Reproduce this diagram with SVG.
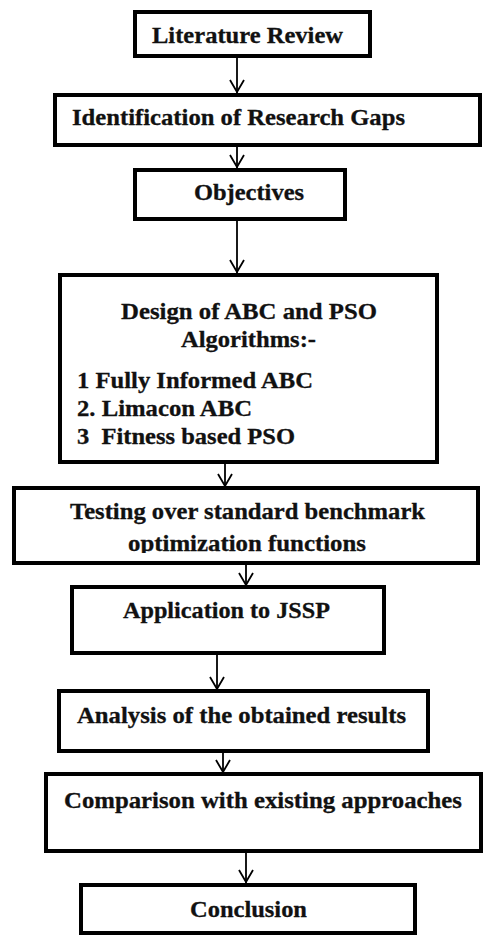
<svg xmlns="http://www.w3.org/2000/svg" width="483" height="936" viewBox="0 0 483 936">
  <style>
    .box { fill: #ffffff; stroke: #000000; stroke-width: 4; }
    .lbl { font-family: "Liberation Serif", "Times New Roman", Times, serif; font-weight: bold; font-size: 23px; fill: #111111; stroke: #111111; stroke-width: 0.3; }
    .conn line, .conn polyline { stroke: #000000; stroke-width: 1.8; fill: none; }
  </style>
  <defs>
    <clipPath id="testClip"><rect x="16" y="490" width="460" height="63"/></clipPath>
  </defs>
  <rect width="483" height="936" fill="#ffffff"/>

  <g id="literature-review">
    <rect class="box" x="135" y="12" width="235" height="44"/>
    <text class="lbl" x="152" y="43" textLength="191" lengthAdjust="spacingAndGlyphs">Literature Review</text>
  </g>

  <g id="research-gaps">
    <rect class="box" x="55" y="95" width="425" height="50"/>
    <text class="lbl" x="72" y="125" textLength="333" lengthAdjust="spacingAndGlyphs">Identification of Research Gaps</text>
  </g>

  <g id="objectives">
    <rect class="box" x="135" y="170" width="210" height="49"/>
    <text class="lbl" x="194" y="200" textLength="110" lengthAdjust="spacingAndGlyphs">Objectives</text>
  </g>

  <g id="algorithm-design">
    <rect class="box" x="60" y="275" width="377" height="187"/>
    <text class="lbl" x="121" y="319" textLength="256" lengthAdjust="spacingAndGlyphs">Design of ABC and PSO</text>
    <text class="lbl" x="181" y="347" textLength="135" lengthAdjust="spacingAndGlyphs">Algorithms:-</text>
    <text class="lbl" x="77" y="388" textLength="236" lengthAdjust="spacingAndGlyphs">1 Fully Informed ABC</text>
    <text class="lbl" x="77" y="416" textLength="175" lengthAdjust="spacingAndGlyphs">2. Limacon ABC</text>
    <text class="lbl" x="77" y="444" textLength="218" lengthAdjust="spacingAndGlyphs" xml:space="preserve">3  Fitness based PSO</text>
  </g>

  <g id="benchmark-testing">
    <rect class="box" x="14" y="488" width="464" height="75"/>
    <g clip-path="url(#testClip)">
      <text class="lbl" x="70" y="519" textLength="355" lengthAdjust="spacingAndGlyphs">Testing over standard benchmark</text>
      <text class="lbl" x="128" y="551" textLength="238" lengthAdjust="spacingAndGlyphs">optimization functions</text>
    </g>
  </g>

  <g id="jssp-application">
    <rect class="box" x="72" y="587" width="312" height="66"/>
    <text class="lbl" x="123" y="618" textLength="207" lengthAdjust="spacingAndGlyphs">Application to JSSP</text>
  </g>

  <g id="results-analysis">
    <rect class="box" x="59" y="691" width="369" height="60"/>
    <text class="lbl" x="77" y="723" textLength="329" lengthAdjust="spacingAndGlyphs">Analysis of the obtained results</text>
  </g>

  <g id="comparison">
    <rect class="box" x="46" y="774" width="435" height="77"/>
    <text class="lbl" x="64" y="808" textLength="398" lengthAdjust="spacingAndGlyphs">Comparison with existing approaches</text>
  </g>

  <g id="conclusion">
    <rect class="box" x="81" y="885" width="334" height="48"/>
    <text class="lbl" x="190" y="917" textLength="117" lengthAdjust="spacingAndGlyphs">Conclusion</text>
  </g>

  <g id="connectors" class="conn">
    <line x1="237" y1="56" x2="237" y2="93"/>
    <polyline points="230,80 237,92 244,80"/>
    <line x1="237" y1="146" x2="237" y2="168"/>
    <polyline points="230,155 237,167 244,155"/>
    <line x1="237" y1="220" x2="237" y2="273"/>
    <polyline points="230,260 237,272 244,260"/>
    <line x1="225" y1="462" x2="225" y2="487"/>
    <polyline points="218,474 225,486 232,474"/>
    <line x1="246" y1="563" x2="246" y2="586"/>
    <polyline points="239,573 246,585 253,573"/>
    <line x1="217" y1="653" x2="217" y2="690"/>
    <polyline points="210,677 217,689 224,677"/>
    <line x1="223" y1="751" x2="223" y2="773"/>
    <polyline points="216,760 223,772 230,760"/>
    <line x1="246" y1="851" x2="246" y2="884"/>
    <polyline points="239,870 246,882 253,870"/>
  </g>
</svg>
